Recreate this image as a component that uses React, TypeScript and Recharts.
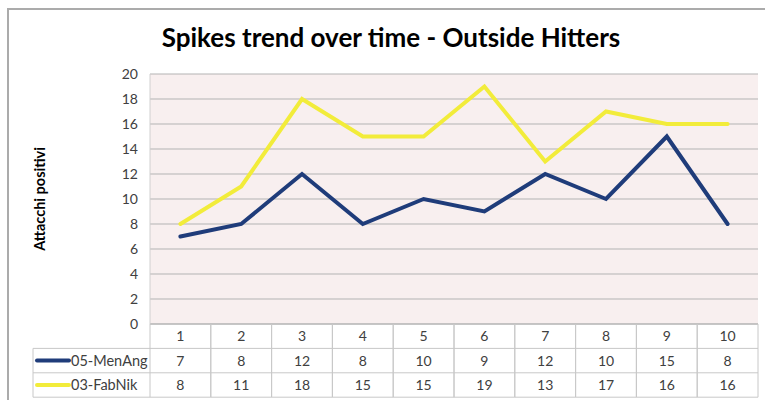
import { LineChart, Line, XAxis, YAxis, CartesianGrid } from 'recharts';

const categories = ['1', '2', '3', '4', '5', '6', '7', '8', '9', '10'];
const menAng = [7, 8, 12, 8, 10, 9, 12, 10, 15, 8];
const fabNik = [8, 11, 18, 15, 15, 19, 13, 17, 16, 16];
const yTicks = [0, 2, 4, 6, 8, 10, 12, 14, 16, 18, 20];

const series = [
  { key: 'menAng', name: '05-MenAng', color: '#1F3C7A', values: menAng },
  { key: 'fabNik', name: '03-FabNik', color: '#F2EC3A', values: fabNik },
];

const data = categories.map((cat, i) => ({ cat, menAng: menAng[i], fabNik: fabNik[i] }));

const W = 765;
const H = 400;
const MARGIN = { top: 74, right: 7, bottom: 0, left: 0 };
const Y_AXIS_W = 150;
const TABLE_H = 76;
const ROW_H = 24.4;
const CELL_W = (W - MARGIN.left - MARGIN.right - Y_AXIS_W) / categories.length;
const LEGEND_X = 33;
const FONT = 'Lato, "Open Sans", sans-serif';
const TABLE_LINE = '#C8C8C8';
const TEXT = '#404040';

const TableTick = (props: any) => {
  const { x, y, index } = props;
  const half = CELL_W / 2;
  const left = x - half;
  const right = x + half;
  const bottom = y + ROW_H * 3;
  return (
    <g>
      <line x1={left} y1={y} x2={left} y2={bottom} stroke={TABLE_LINE} />
      <line x1={right} y1={y} x2={right} y2={bottom} stroke={TABLE_LINE} />
      {[1, 2, 3].map((r) => (
        <line key={r} x1={left} y1={y + ROW_H * r} x2={right} y2={y + ROW_H * r} stroke={TABLE_LINE} />
      ))}
      <text x={x} y={y + ROW_H / 2} dy="0.35em" textAnchor="middle" fontSize={14} fill={TEXT} fontFamily={FONT}>
        {categories[index]}
      </text>
      {series.map((s, r) => (
        <text key={s.key} x={x} y={y + ROW_H * (r + 1.5)} dy="0.35em" textAnchor="middle" fontSize={14} fill={TEXT} fontFamily={FONT}>
          {s.values[index]}
        </text>
      ))}
      {index === 0 && (
        <g>
          <line x1={LEGEND_X} y1={y + ROW_H} x2={LEGEND_X} y2={bottom} stroke={TABLE_LINE} />
          {[1, 2, 3].map((r) => (
            <line key={r} x1={LEGEND_X} y1={y + ROW_H * r} x2={left} y2={y + ROW_H * r} stroke={TABLE_LINE} />
          ))}
          {series.map((s, r) => (
            <g key={s.key}>
              <line x1={LEGEND_X + 4} y1={y + ROW_H * (r + 1.5)} x2={LEGEND_X + 36} y2={y + ROW_H * (r + 1.5)} stroke={s.color} strokeWidth={4} strokeLinecap="round" />
              <text x={LEGEND_X + 38} y={y + ROW_H * (r + 1.5)} dy="0.35em" fontSize={14.5} fill={TEXT} fontFamily={FONT}>
                {s.name}
              </text>
            </g>
          ))}
        </g>
      )}
    </g>
  );
};

const AxisTitle = (props: any) => {
  const { viewBox } = props;
  const cx = viewBox.x + 40;
  const cy = viewBox.y + viewBox.height / 2;
  return (
    <text x={cx} y={cy} transform={`rotate(-90, ${cx}, ${cy})`} textAnchor="middle" dy="0.35em" fontSize={14.5} fontWeight="bold" fill="#000" fontFamily={FONT}>
      Attacchi positivi
    </text>
  );
};

export default function App() {
  return (
    <div style={{ position: 'absolute', left: 0, top: 0, width: W, height: H, background: '#fff', overflow: 'hidden', fontFamily: FONT }}>
      <div style={{ position: 'absolute', left: 7, top: 8, width: W - 7, height: H - 8, borderTop: '2px solid #ABABAB', borderLeft: '2px solid #ABABAB', boxSizing: 'border-box' }} />
      <div style={{ position: 'absolute', left: 0, width: 782, top: 21, textAlign: 'center', fontSize: 26, fontWeight: 'bold', color: '#000', lineHeight: '32px' }}>
        Spikes trend over time - Outside Hitters
      </div>
      <div style={{ position: 'absolute', left: 0, top: 0 }}>
        <LineChart width={W} height={H} data={data} margin={MARGIN}>
          <CartesianGrid vertical={false} stroke="#B3B3B3" fill="#F8EFEF" fillOpacity={1} />
          <XAxis
            dataKey="cat"
            height={TABLE_H}
            tickLine={false}
            tickSize={0}
            tickMargin={0}
            padding={{ left: CELL_W / 2, right: CELL_W / 2 }}
            axisLine={{ stroke: '#B3B3B3' }}
            tick={<TableTick />}
            interval={0}
          />
          <YAxis
            width={Y_AXIS_W}
            domain={[0, 20]}
            ticks={yTicks}
            interval={0}
            tickLine={false}
            tickMargin={6}
            axisLine={{ stroke: '#D0D0D0' }}
            tick={{ fontSize: 14, fill: TEXT, fontFamily: FONT }}
            label={{ content: <AxisTitle /> }}
          />
          {series.map((s) => (
            <Line
              key={s.key}
              dataKey={s.key}
              name={s.name}
              stroke={s.color}
              strokeWidth={4}
              strokeLinecap="round"
              dot={false}
              type="linear"
              isAnimationActive={false}
            />
          ))}
        </LineChart>
      </div>
    </div>
  );
}
